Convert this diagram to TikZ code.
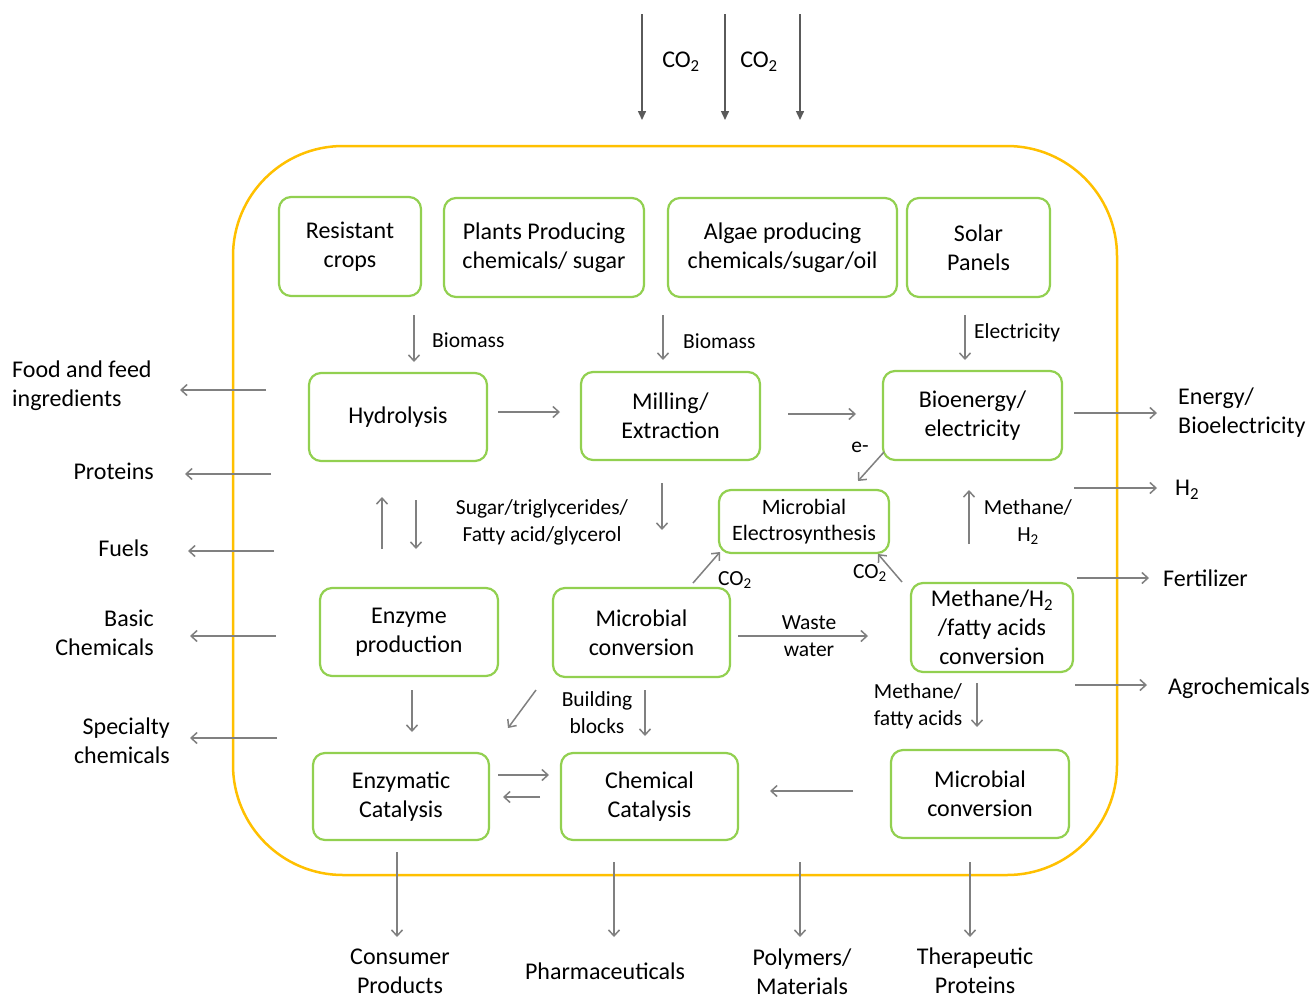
\documentclass[tikz,border=0pt]{standalone}
\usepackage{fontspec}
\setmainfont{Carlito}
\usetikzlibrary{arrows.meta}
\definecolor{boxgreen}{RGB}{146,208,80}
\definecolor{frameorange}{RGB}{255,192,0}
\definecolor{arrgray}{RGB}{128,128,128}
\definecolor{co2gray}{RGB}{90,90,90}
\begin{document}
\begin{tikzpicture}[x=1pt,y=-1pt,
  box/.style 2 args={draw=boxgreen, line width=2.2pt, rounded corners=12pt, align=center,
    inner sep=0pt, outer sep=0pt, minimum width=#1pt, minimum height=#2pt,
    font=\fontsize{24}{29}\selectfont},
  lbl/.style={font=\fontsize{21.5}{27}\selectfont, align=center, inner sep=0pt},
  outlbl/.style={font=\fontsize{24}{29}\selectfont, align=center, inner sep=0pt},
  arr/.style={draw=arrgray, line width=1.5pt, -{Straight Barb[length=6pt,width=11pt]}},
  co2arr/.style={draw=co2gray, line width=1.5pt, -{Triangle[length=9pt,width=8pt]}}]
\useasboundingbox (0,0) rectangle (1314,999);
\fill[white] (0,0) rectangle (1314,999);

% container
\node[draw=frameorange, line width=2.5pt, rounded corners=110pt, minimum width=884pt,
  minimum height=729pt, inner sep=0pt, outer sep=0pt] (frame) at (675,510.5) {};

% boxes
\node[box={142}{99}] (crop) at (350,246.5) {Resistant\\crops};
\node[box={200}{99}] (plants) at (544,247.5) {Plants Producing\\chemicals/ sugar};
\node[box={229}{99}] (algae) at (782.5,247.5) {Algae producing\\chemicals/sugar/oil};
\node[box={143}{99}] (solar) at (978.5,247.5) {Solar\\Panels};
\node[box={178}{88}] (hyd) at (398,417) {Hydrolysis};
\node[box={179}{88}] (mill) at (670.5,416) {Milling/\\Extraction};
\node[box={179}{89}] (bio) at (972.5,415.5) {Bioenergy/\\electricity};
\node[box={170}{63}, font=\fontsize{22}{26}\selectfont] (mes) at (804,521.5) {Microbial\\Electrosynthesis};
\node[box={178}{88}] (enz) at (409,632) {Enzyme\\production};
\node[box={177}{89}] (mic) at (641.5,632.5) {Microbial\\conversion};
\node[box={162}{89}] (meth) at (992,627.5) {Methane/H\textsubscript{2}\\/fatty acids\\conversion};
\node[box={176}{87}] (enzcat) at (401,796.5) {Enzymatic\\Catalysis};
\node[box={177}{87}] (chemcat) at (649.5,796.5) {Chemical\\Catalysis};
\node[box={178}{88}] (mic2) at (980,794) {Microbial\\conversion};

% top CO2 inputs
\draw[co2arr] (frame.north) ++(-33,-132) -- ++(0,106);
\draw[co2arr] (frame.north) ++(50,-132) -- ++(0,106);
\draw[co2arr] (frame.north) ++(125,-132) -- ++(0,106);
\node[outlbl] (co2a) at (681,62) {CO\textsubscript{2}};
\node[outlbl] (co2b) at (759,62) {CO\textsubscript{2}};

% internal arrows
\draw[arr] (crop.south) ++(64,19) -- ++(0,47);
\node[lbl, anchor=west] (bm1) at (432,340) {Biomass};
\draw[arr] (plants.south) ++(119,18) -- ++(0,45);
\node[lbl, anchor=west] (bm2) at (683,341) {Biomass};
\draw[arr] (solar.south) ++(-13.5,18) -- ++(0,45);
\node[lbl, anchor=west] (elec) at (974,333) {Electricity};
\draw[arr] (hyd.east) ++(11,-5) -- ++(62,0);
\draw[arr] (mill.east) ++(28,-2) -- ++(68,0);

\draw[arr] (hyd.south) ++(-16,88) -- ++(0,-52);
\draw[arr] (hyd.south) ++(18,39) -- ++(0,49);
\node[lbl] (sugar) at (542,522) {Sugar/triglycerides/\\Fatty acid/glycerol};
\draw[arr] (mill.south) ++(-8.5,23) -- ++(0,47);

\draw[arr] (bio.south) ++(-88.5,-8) -- ++(-26,29);
\node[lbl] (eminus) at (860,447) {e-};
\draw[arr] (bio.south) ++(-3.5,84) -- ++(0,-54);
\node[lbl] (methh) at (1028,522) {Methane/\\H\textsubscript{2}};

\draw[arr] (mic.north) ++(51.5,-5) -- ++(27,-31);
\node[lbl] (co2c) at (735,580) {CO\textsubscript{2}};
\draw[arr] (meth.north) ++(-90,-1) -- ++(-24,-28);
\node[lbl] (co2d) at (870,573) {CO\textsubscript{2}};

\draw[arr] (mic.east) ++(8,3.5) -- ++(130,0);
\node[lbl] (waste) at (809,636) {Waste\\water};

\draw[arr] (enz.south) ++(3,14) -- ++(0,42);
\draw[arr] (mic.south) ++(-105.5,13) -- ++(-28,38);
\draw[arr] (mic.south) ++(3.5,13) -- ++(0,46);
\node[lbl] (build) at (597,713) {Building\\blocks};
\draw[arr] (meth.south) ++(-15,11) -- ++(0,44);
\node[lbl] (methfa) at (918,706) {Methane/\\fatty acids};

\draw[arr] (enzcat.east) ++(9,-21.5) -- ++(51,0);
\draw[arr] (chemcat.west) ++(-21,0.5) -- ++(-37,0);
\draw[arr] (mic2.west) ++(-38,-3) -- ++(-83,0);

% left outputs
\draw[arr] (frame.west) ++(33,-120.5) -- ++(-86,0);
\draw[arr] (frame.west) ++(38,-36.5) -- ++(-86,0);
\draw[arr] (frame.west) ++(41,40.5) -- ++(-86,0);
\draw[arr] (frame.west) ++(43,125.5) -- ++(-86,0);
\draw[arr] (frame.west) ++(44,227.5) -- ++(-87,0);
\node[outlbl, align=left, anchor=west] (food) at (12,386) {Food and feed\\ingredients};
\node[outlbl, anchor=east] (prot) at (154,471) {Proteins};
\node[outlbl, anchor=east] (fuel) at (149,548) {Fuels};
\node[outlbl, align=right, anchor=east] (basic) at (154,633) {Basic\\Chemicals};
\node[outlbl, align=right, anchor=east] (spec) at (170,741) {Specialty\\chemicals};

% right outputs
\draw[arr] (frame.east) ++(-43,-97.5) -- ++(83,0);
\draw[arr] (frame.east) ++(-43,-22.5) -- ++(83,0);
\draw[arr] (frame.east) ++(-40,67.5) -- ++(72,0);
\draw[arr] (frame.east) ++(-42,174.5) -- ++(72,0);
\node[outlbl, align=left, anchor=west] (energy) at (1178,413) {Energy/\\Bioelectricity};
\node[outlbl, anchor=west] (htwo) at (1175,490) {H\textsubscript{2}};
\node[outlbl, anchor=west] (fert) at (1163,578) {Fertilizer};
\node[outlbl, anchor=west] (agro) at (1168,688) {Agrochemicals};

% bottom outputs
\draw[arr] (enzcat.south) ++(-4,12) -- ++(0,85);
\draw[arr] (frame.south) ++(-61,-13) -- ++(0,75);
\draw[arr] (frame.south) ++(125,-13) -- ++(0,75);
\draw[arr] (frame.south) ++(295,-13) -- ++(0,75);
\node[outlbl] (cons) at (400,971) {Consumer\\Products};
\node[outlbl] (pharma) at (605,971) {Pharmaceuticals};
\node[outlbl] (poly) at (802,972) {Polymers/\\Materials};
\node[outlbl] (thera) at (975,971) {Therapeutic\\Proteins};
\end{tikzpicture}
\end{document}
